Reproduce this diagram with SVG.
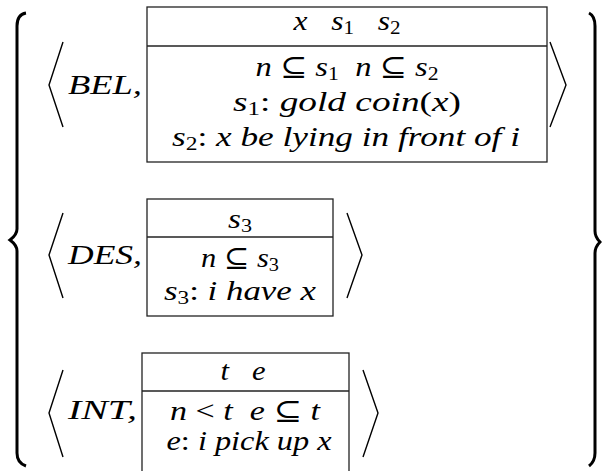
<svg xmlns="http://www.w3.org/2000/svg" width="602" height="471" viewBox="0 0 602 471">
<style>
  .t { font-family: "Liberation Serif", "Times New Roman", "DejaVu Serif", serif; font-style: italic; font-size: 27px; fill: #000; white-space: pre; }
  .m { text-anchor: middle; }
  .sub { font-size: 18px; font-style: normal; }
  .r { font-style: normal; }
  .box { fill: #fff; stroke: #222; stroke-width: 1.3; }
  .div { stroke: #222; stroke-width: 1.3; }
  .ang { fill: none; stroke: #000; stroke-width: 1.4; stroke-linejoin: miter; }
  .brace { fill: none; stroke: #000; stroke-width: 3; stroke-linecap: butt; }
</style>

<g id="left-brace">
  <path class="brace" d="M 26 13 C 20 14, 17 18, 17 26 L 17 229 C 17 234, 14 237, 10 240 C 14 243, 17 246, 17 251 L 17 453 C 17 460, 20 464, 26 466"/>
</g>
<g id="right-brace">
  <path class="brace" d="M 589 13 C 593 15, 595 19, 595 26 L 595 231 C 595 236, 597 239, 600 242 C 597 245, 595 248, 595 253 L 595 453 C 595 460, 593 463, 589 466"/>
</g>

<g id="bel">
  <polyline class="ang" points="63,42 49,85 63,127"/>
  <text class="t" x="68" y="94" textLength="74" lengthAdjust="spacingAndGlyphs">BEL,</text>
  <rect class="box" x="147" y="7" width="400" height="155"/>
  <line class="div" x1="147" y1="46" x2="547" y2="46"/>
  <text class="t m" x="347" y="30" textLength="107" lengthAdjust="spacingAndGlyphs">x   s<tspan class="sub" dy="4">1</tspan><tspan dy="-4">   s</tspan><tspan class="sub" dy="4">2</tspan></text>
  <text class="t m" x="347" y="76" textLength="183" lengthAdjust="spacingAndGlyphs">n <tspan class="r">⊆</tspan> s<tspan class="sub" dy="4">1</tspan><tspan dy="-4">  n </tspan><tspan class="r">⊆</tspan> s<tspan class="sub" dy="4">2</tspan></text>
  <text class="t m" x="347" y="111" textLength="228" lengthAdjust="spacingAndGlyphs">s<tspan class="sub" dy="4">1</tspan><tspan class="r" dy="-4">: </tspan>gold coin<tspan class="r">(</tspan>x<tspan class="r">)</tspan></text>
  <text class="t m" x="346" y="146" textLength="348" lengthAdjust="spacingAndGlyphs">s<tspan class="sub" dy="4">2</tspan><tspan class="r" dy="-4">: </tspan>x be lying in front of i</text>
  <polyline class="ang" points="550,42 566,85 550,127"/>
</g>

<g id="des">
  <polyline class="ang" points="63,213 49,255 63,298"/>
  <text class="t" x="68" y="264" textLength="74" lengthAdjust="spacingAndGlyphs">DES,</text>
  <rect class="box" x="147" y="199" width="186" height="117"/>
  <line class="div" x1="147" y1="237" x2="333" y2="237"/>
  <text class="t m" x="240" y="228" textLength="24" lengthAdjust="spacingAndGlyphs">s<tspan class="sub" dy="4">3</tspan></text>
  <text class="t m" x="240" y="267" textLength="78" lengthAdjust="spacingAndGlyphs">n <tspan class="r">⊆</tspan> s<tspan class="sub" dy="4">3</tspan></text>
  <text class="t m" x="240" y="300" textLength="152" lengthAdjust="spacingAndGlyphs">s<tspan class="sub" dy="4">3</tspan><tspan class="r" dy="-4">: </tspan>i have x</text>
  <polyline class="ang" points="347,213 362,255 347,298"/>
</g>

<g id="int">
  <polyline class="ang" points="63,370 49,413 63,457"/>
  <text class="t" x="68" y="419" textLength="69" lengthAdjust="spacingAndGlyphs">INT,</text>
  <rect class="box" x="142" y="353" width="207" height="130"/>
  <line class="div" x1="142" y1="391" x2="349" y2="391"/>
  <text class="t m" x="243" y="380" textLength="45" lengthAdjust="spacingAndGlyphs">t   e</text>
  <text class="t m" x="245" y="420" textLength="150" lengthAdjust="spacingAndGlyphs">n <tspan class="r">&lt;</tspan> t  e <tspan class="r">⊆</tspan> t</text>
  <text class="t m" x="249" y="450" textLength="165" lengthAdjust="spacingAndGlyphs">e<tspan class="r">: </tspan>i pick up x</text>
  <polyline class="ang" points="363,370 378,413 363,457"/>
</g>
</svg>
